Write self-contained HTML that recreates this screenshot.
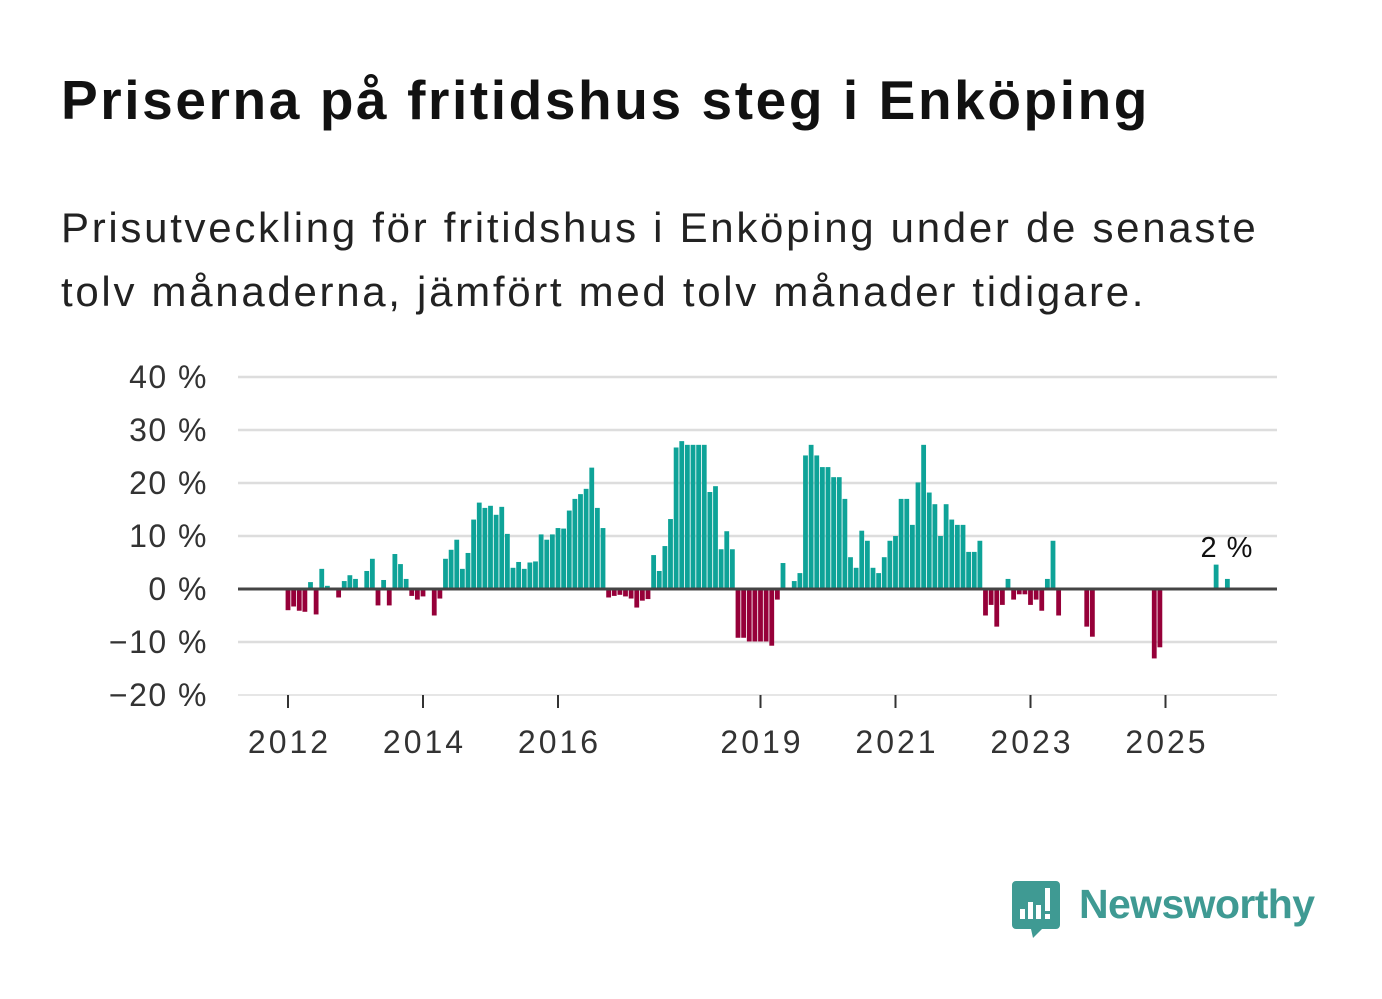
<!DOCTYPE html>
<html><head><meta charset="utf-8">
<style>
body{margin:0;background:#fff;width:1382px;height:999px;overflow:hidden;font-family:"Liberation Sans","DejaVu Sans",sans-serif;}
#title{position:absolute;left:61px;top:68px;font-size:55px;font-weight:bold;color:#111;letter-spacing:2.6px;margin:0;white-space:nowrap;}
#sub{position:absolute;left:61px;top:196px;font-size:42px;line-height:64px;color:#222;margin:0;width:1300px;letter-spacing:2.7px;}
svg{position:absolute;left:0;top:0;}
</style></head><body>
<h1 id="title">Priserna på fritidshus steg i Enköping</h1>
<p id="sub">Prisutveckling för fritidshus i Enköping under de senaste<br>tolv månaderna, jämfört med tolv månader tidigare.</p>
<svg id="chart" width="1382" height="999"></svg>
<script>
const values = [-4.0,-3.3,-4.1,-4.3,1.3,-4.8,3.8,0.6,0,-1.6,1.5,2.6,1.9,0,3.4,5.7,-3.1,1.7,-3.1,6.6,4.7,1.9,-1.3,-2.0,-1.4,0,-5.0,-1.8,5.7,7.4,9.3,3.8,6.8,13.1,16.3,15.3,15.7,14.0,15.5,10.4,4.0,5.1,3.8,5.0,5.2,10.3,9.3,10.3,11.5,11.4,14.8,17.0,17.9,18.9,22.9,15.3,11.5,-1.6,-1.3,-1.1,-1.4,-1.8,-3.5,-2.2,-1.9,6.4,3.4,8.1,13.2,26.7,27.9,27.2,27.2,27.2,27.2,18.3,19.4,7.5,10.9,7.5,-9.2,-9.2,-9.9,-9.9,-9.9,-9.9,-10.7,-2.0,4.9,0,1.5,3.0,25.2,27.2,25.2,23.0,23.0,21.1,21.1,17.0,6.0,4.0,11.0,9.1,4.0,3.0,6.0,9.1,10.0,17.0,17.0,12.1,20.1,27.2,18.2,16.0,10.0,16.0,13.1,12.1,12.1,7.0,7.0,9.1,-5.0,-3.0,-7.1,-3.0,1.9,-2.0,-1.0,-1.0,-3.0,-2.0,-4.1,1.9,9.1,-5.0,0,0,0,0,-7.1,-9.0,0,0,0,0,0,0,0,0,0,0,-13.1,-11.0,0,0,0,0,0,0,0,0,0,4.6,0,1.9];
const yTicks = [40,30,20,10,0,-10,-20];
const yTickLabels = ["40 %","30 %","20 %","10 %","0 %","−10 %","−20 %"];
const xTickYears = [2012,2014,2016,2019,2021,2023,2025];
const lastLabel = "2 %";

const svg = document.getElementById('chart');
const NS = 'http://www.w3.org/2000/svg';
const x0 = 238, x1 = 1277;
function y(v){ return 589 - v*5.3; }
function xMonth(i){ return 288 + i*5.625; }
function xYear(yr){ return xMonth((yr-2012)*12); }
function mk(tag, attrs){ const e=document.createElementNS(NS,tag); for(const k in attrs) e.setAttribute(k,attrs[k]); svg.appendChild(e); return e; }

yTicks.forEach((t,k)=>{
  if(t!==0){
    const g = mk('line',{x1:x0,x2:x1,y1:y(t),y2:y(t),stroke:'#dddddd','stroke-width':t===-20?1.5:2.5});
    
    
  }
  const l = mk('text',{x:208,y:y(t)+11,'text-anchor':'end','font-size':32,'letter-spacing':1.5,fill:'#333','font-family':'Liberation Sans, DejaVu Sans, sans-serif'});
  l.textContent = yTickLabels[k];
  
  
});

values.forEach((v,i)=>{
  if(!v) return;
  const top = v>0 ? y(v) : y(0);
  const h = Math.abs(y(v)-y(0));
  const b = mk('rect',{x:xMonth(i)-2.4,y:top,width:4.8,height:h,fill:v>0?'#0ea398':'#960039'});
  
  
});

const z = mk('line',{x1:x0,x2:x1,y1:y(0),y2:y(0),stroke:'#444','stroke-width':3});



xTickYears.forEach(yr=>{
  const xx = xYear(yr);
  const t = mk('line',{x1:xx,x2:xx,y1:695,y2:708,stroke:'#333','stroke-width':2});
  
  
  const l = mk('text',{x:xx+1.5,y:753,'text-anchor':'middle','font-size':32,'letter-spacing':3,fill:'#333','font-family':'Liberation Sans, DejaVu Sans, sans-serif'});
  l.textContent = yr;
  
  
});

const ll = mk('text',{x:1227,y:557,'text-anchor':'middle','font-size':29,'letter-spacing':1,fill:'#111','font-family':'Liberation Sans, DejaVu Sans, sans-serif'});
ll.textContent = lastLabel;


</script>
<svg width="1382" height="999" style="position:absolute;left:0;top:0">
  <path d="M1016 881 h40 a4 4 0 0 1 4 4 v40 a4 4 0 0 1 -4 4 h-14 l-9 9 l-2 -9 h-15 a4 4 0 0 1 -4 -4 v-40 a4 4 0 0 1 4 -4z" fill="#3f9a93"/>
  <rect x="1020" y="909" width="5" height="10" fill="#fff"/>
  <rect x="1028" y="902" width="5" height="17" fill="#fff"/>
  <rect x="1036" y="905" width="5" height="14" fill="#fff"/>
  <rect x="1045" y="888" width="5" height="23" fill="#fff"/>
  <rect x="1045" y="914" width="5" height="5" fill="#fff"/>
  <text x="1079" y="918" font-size="41" font-weight="bold" fill="#3f9a93" font-family="Liberation Sans, DejaVu Sans, sans-serif" textLength="236">Newsworthy</text>
</svg>
</body></html>
